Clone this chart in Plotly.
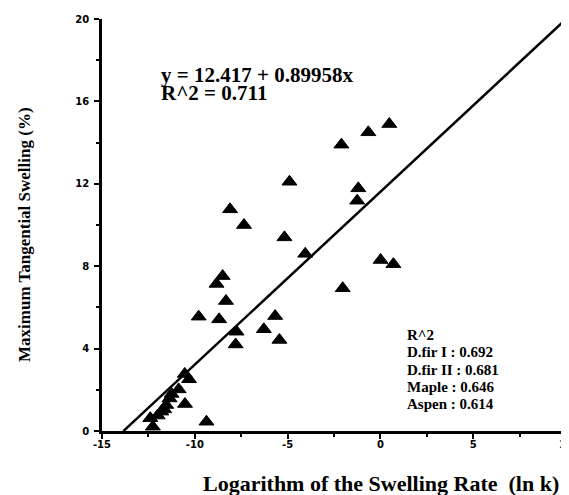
import plotly.graph_objects as go

# Data
ln_k = [-2.1, -0.65, 0.48, -4.9, -1.19, -1.25, -8.1, -7.35, -5.17, -4.05,
        -2.03, 0.01, 0.70, -8.5, -8.83, -8.32, -9.79, -8.69, -5.67, -6.28,
        -7.75, -7.8, -5.44, -10.54, -10.31, -10.87, -10.53, -11.36, -11.54,
        -11.8, -11.25, -11.65, -12.0, -12.4, -12.26, -9.37]
swelling = [13.9, 14.5, 14.9, 12.1, 11.78, 11.18, 10.76, 10.0, 9.4, 8.6,
            6.93, 8.3, 8.1, 7.52, 7.14, 6.31, 5.55, 5.42, 5.58, 4.94,
            4.82, 4.2, 4.42, 2.77, 2.51, 2.02, 1.31, 1.58, 1.26,
            0.94, 1.8, 1.05, 0.75, 0.62, 0.21, 0.45]

# Regression line as drawn in the picture
fit_intercept = 11.61
fit_slope = 0.8386
fit_x = [-13.85, 10.0]

equation_lines = ["y = 12.417 + 0.89958x", "R^2 = 0.711"]
r2_species = ["D.fir I", "D.fir II", "Maple", "Aspen"]
r2_values = ["0.692", "0.681", "0.646", "0.614"]

x_ticks = [-15, -10, -5, 0, 5, 10]
y_ticks = [0, 4, 8, 12, 16, 20]

serif = "Liberation Serif"
sans = "DejaVu Sans"

W, H = 569, 495
OFF = 8  # page body margin
# plot area in window pixels, converted to figure pixels
L, R, T, B = 102 - OFF, 566 - OFF, 19 - OFF, 431 - OFF


def px(xw, yw):
    xf, yf = xw - OFF, yw - OFF
    return dict(x=(xf - L) / (R - L), y=(B - yf) / (B - T), xref="paper", yref="paper")


fig = go.Figure()
fig.add_trace(go.Scatter(
    x=fit_x, y=[fit_intercept + fit_slope * v for v in fit_x],
    mode="lines", line=dict(color="black", width=2.5),
    cliponaxis=False, showlegend=False, hoverinfo="skip"))
fig.add_trace(go.Scatter(
    x=ln_k, y=swelling, mode="markers",
    marker=dict(symbol="triangle-up", size=13, color="black",
                line=dict(color="black", width=1)),
    cliponaxis=False, showlegend=False))

axis_common = dict(showgrid=False, zeroline=False, showline=True, automargin=False,
                   linecolor="black", linewidth=2.5, ticks="outside",
                   ticklen=5, tickwidth=1.5, tickcolor="black",
                   ticklabeloverflow="allow",
                   tickfont=dict(family=sans, size=10, color="black", weight="bold"))

fig.update_xaxes(range=[-15, 10], tickvals=x_ticks, ticktext=[str(v) for v in x_ticks],
                 minor=dict(tickvals=[-12.5, -7.5, -2.5, 2.5, 7.5], ticks="outside",
                            ticklen=3, tickwidth=1.5, tickcolor="black"),
                 ticklabelstandoff=-3,
                 **axis_common)
fig.update_yaxes(range=[0, 20], tickvals=y_ticks, ticktext=[str(v) for v in y_ticks],
                 minor=dict(tickvals=[2, 6, 10, 14, 18], ticks="outside",
                            ticklen=3, tickwidth=1.5, tickcolor="black"),
                 ticklabelstandoff=3,
                 **axis_common)

annotations = []
annotations.append(dict(**px(381, 483), text="Logarithm of the Swelling Rate  (ln k)",
                        showarrow=False, xanchor="center", yanchor="middle",
                        font=dict(family=serif, size=22, color="black", weight="bold")))
annotations.append(dict(**px(24, 235), text="Maximum Tangential Swelling (%)",
                        textangle=-90, showarrow=False, xanchor="center", yanchor="middle",
                        font=dict(family=serif, size=17, color="black", weight="bold")))
for i, line in enumerate(equation_lines):
    annotations.append(dict(**px(159, 75 + 18.5 * i), text=line, showarrow=False,
                            xanchor="left", yanchor="middle",
                            font=dict(family=serif, size=21, color="black", weight="bold")))
legend_lines = ["R^2"] + [f"{s} : {v}" for s, v in zip(r2_species, r2_values)]
for i, line in enumerate(legend_lines):
    annotations.append(dict(**px(405, 335 + 17.3 * i), text=line, showarrow=False,
                            xanchor="left", yanchor="middle",
                            font=dict(family=serif, size=15, color="black", weight="bold")))

fig.update_layout(width=W, height=H, margin=dict(l=L, r=W - R, t=T, b=H - B),
                  plot_bgcolor="white", paper_bgcolor="white",
                  annotations=annotations)

fig.write_html("out.html")
